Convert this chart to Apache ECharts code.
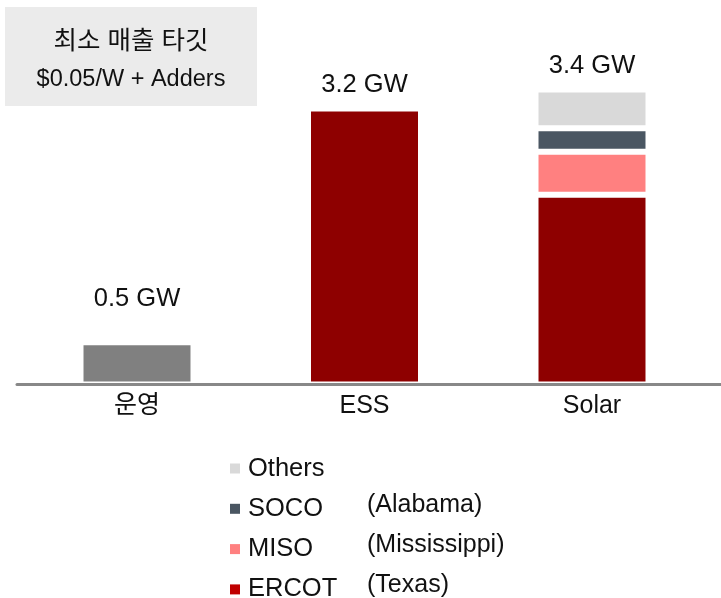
<!DOCTYPE html>
<html>
<head>
<meta charset="utf-8">
<script src="https://cdn.jsdelivr.net/npm/echarts@6/dist/echarts.min.js"></script>
<style>
  html, body { margin: 0; padding: 0; background: #fff; }
  #chartdiv { width: 721px; height: 598px; }
</style>
</head>
<body>
<div id="chartdiv"></div>
<script>
var FONT = 'Arial, "Liberation Sans", "Noto Sans CJK KR", sans-serif';

// categories and values (GW)
var categories = ['운영', 'ESS', 'Solar'];
var operating = [0.49, '-', '-'];
var ercot = ['-', 3.2, 2.2];
var miso = ['-', '-', 0.5];
var soco = ['-', '-', 0.27];
var others = ['-', '-', 0.45];
var totalLabels = ['0.5 GW', '3.2 GW', '3.4 GW'];

// legend names and regions
var legendNames = ['Others', 'SOCO', 'MISO', 'ERCOT'];
var legendRegions = ['', '(Alabama)', '(Mississippi)', '(Texas)'];

var titleLines = ['최소 매출 타깃', '$0.05/W + Adders'];

// label on top of the stack for a given category
function withTopLabel(values, idx, dist) {
    return values.map(function(v, i) {
        if (i !== idx || v === '-') return v;
        return {
            value: v,
            label: {
                show: true,
                position: 'top',
                distance: dist,
                formatter: totalLabels[i],
                fontSize: 25.5,
                fontFamily: FONT,
                color: '#111'
            }
        };
    });
}

var barStyle = function(color) {
    return { color: color, borderColor: '#fff', borderWidth: 3 };
};

var options = {
    animation: false,
    backgroundColor: '#fff',
    graphic: [
        {
            type: 'rect',
            shape: { x: 5, y: 7, width: 252, height: 99 },
            style: { fill: '#EBEBEB' }
        },
        {
            type: 'text',
            x: 131, y: 42,
            style: {
                text: titleLines[0], fontSize: 25.5, fontFamily: FONT, fill: '#111',
                align: 'center', verticalAlign: 'middle'
            }
        },
        {
            type: 'text',
            x: 131, y: 80,
            style: {
                text: titleLines[1], fontSize: 23.5, fontFamily: FONT, fill: '#111',
                align: 'center', verticalAlign: 'middle'
            }
        }
    ],
    legend: {
        orient: 'vertical',
        left: 230,
        top: 452,
        height: 160,
        padding: 0,
        itemWidth: 10,
        itemHeight: 10,
        itemGap: 7.3,
        icon: 'rect',
        itemStyle: { borderWidth: 0 },
        data: [
            { name: 'Others' },
            { name: 'SOCO' },
            { name: 'MISO' },
            { name: 'ERCOT', itemStyle: { color: '#C00000', borderWidth: 0 } }
        ],
        formatter: function(name) {
            var i = legendNames.indexOf(name);
            return '{n|' + name + '}{r|' + legendRegions[i] + '}';
        },
        textStyle: {
            fontSize: 25.5,
            fontFamily: FONT,
            color: '#111',
            rich: {
                n: { width: 119, padding: [0, 0, 0, 3], fontSize: 25.5, fontFamily: FONT, color: '#111', lineHeight: 32 },
                r: { fontSize: 25, fontFamily: FONT, color: '#111', lineHeight: 24, padding: [0, 0, 8, 0] }
            }
        }
    },
    grid: [
        { left: 23.25, right: 15.25, top: 39.5, bottom: 213.5 },
        { left: 17, right: 0, top: 39.5, bottom: 213.5 }
    ],
    xAxis: [
        {
            type: 'category',
            gridIndex: 0,
            data: categories,
            axisLine: { show: false },
            axisTick: { show: false },
            axisLabel: { fontSize: 25, fontFamily: FONT, color: '#111', margin: 9.5 }
        },
        {
            type: 'value',
            gridIndex: 1,
            min: 0,
            max: 1,
            z: 10,
            axisLine: { show: true, lineStyle: { color: '#888', width: 3 } },
            axisTick: { show: false },
            axisLabel: { show: false },
            splitLine: { show: false }
        }
    ],
    yAxis: [
        { type: 'value', gridIndex: 0, min: 0, max: 4, show: false },
        { type: 'value', gridIndex: 1, min: 0, max: 1, show: false }
    ],
    series: [
        {
            name: 'Operating',
            type: 'bar',
            stack: 'total',
            barWidth: 113,
            data: withTopLabel(operating, 0, 30.75),
            itemStyle: barStyle('#808080')
        },
        {
            name: 'ERCOT',
            type: 'bar',
            stack: 'total',
            data: withTopLabel(ercot, 1, 10.75),
            itemStyle: barStyle('#8E0000')
        },
        {
            name: 'MISO',
            type: 'bar',
            stack: 'total',
            data: miso,
            itemStyle: barStyle('#FF8080')
        },
        {
            name: 'SOCO',
            type: 'bar',
            stack: 'total',
            data: soco,
            itemStyle: barStyle('#4A5662')
        },
        {
            name: 'Others',
            type: 'bar',
            stack: 'total',
            data: withTopLabel(others, 2, 11),
            itemStyle: barStyle('#D9D9D9')
        }
    ]
};

var chartDom = document.getElementById('chartdiv');
var plot = echarts.init(chartDom);
options && plot.setOption(options);
</script>
</body>
</html>
